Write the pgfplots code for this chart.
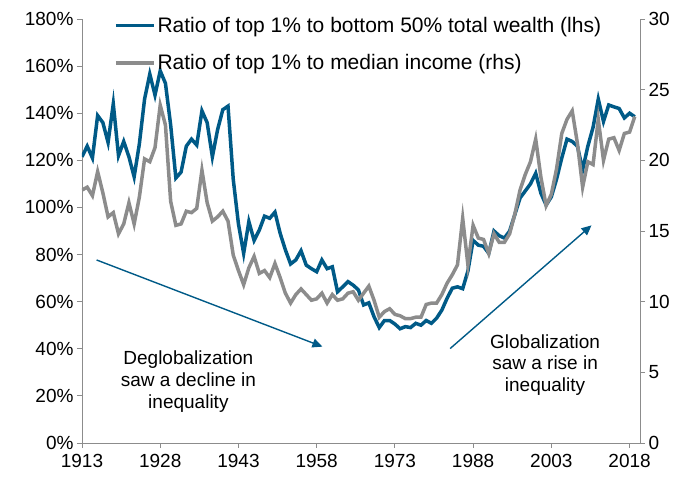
\documentclass[border=0pt]{standalone}
\usepackage{pgfplots}
\pgfplotsset{compat=1.18}
\usepackage{pgfplotstable}
\usepackage{fontspec}
\setmainfont{Liberation Sans}
\usetikzlibrary{arrows.meta}
\definecolor{wblue}{HTML}{005A87}
\definecolor{wgray}{HTML}{8C8C8C}
\definecolor{axgray}{HTML}{8C8C8C}

\pgfplotstableread{
year val
1913 121.5
1914 126
1915 121
1916 139
1917 136
1918 127.6
1919 144
1920 122
1921 128
1922 121.5
1923 113
1924 127
1925 146
1926 156.6
1927 147.7
1928 158
1929 152.7
1930 135
1931 112.5
1932 115
1933 126
1934 129
1935 126.5
1936 141
1937 136
1938 121.5
1939 133
1940 141.5
1941 143
1942 112
1943 93
1944 80.5
1945 94
1946 86
1947 90.4
1948 96.3
1949 95.4
1950 98
1951 89
1952 82
1953 76
1954 77.7
1955 81.6
1956 75.5
1957 74
1958 72.7
1959 77.7
1960 74
1961 74.8
1962 64.2
1963 66.3
1964 68.5
1965 67
1966 65
1967 58.6
1968 59.5
1969 53.6
1970 49
1971 52
1972 52
1973 50.5
1974 48.5
1975 49.4
1976 49
1977 50.8
1978 50
1979 52
1980 50.8
1981 53
1982 56.4
1983 61.4
1984 65.7
1985 66.3
1986 65.5
1987 73
1988 86
1989 84
1990 83.5
1991 80.5
1992 90
1993 88
1994 87
1995 90
1996 97
1997 104
1998 107
1999 110
2000 114.5
2001 106
2002 101
2003 104.5
2004 112
2005 121
2006 129
2007 128
2008 126
2009 116
2010 126
2011 134
2012 146
2013 136.5
2014 143.5
2015 142.7
2016 142
2017 138
2018 140
2019 138.5
}\wealth

\pgfplotstableread{
year val
1913 17.9
1914 18.1
1915 17.5
1916 19.2
1917 17.7
1918 16.0
1919 16.3
1920 14.8
1921 15.5
1922 17.0
1923 15.5
1924 17.4
1925 20.1
1926 19.9
1927 20.9
1928 23.9
1929 22.5
1930 17.1
1931 15.4
1932 15.5
1933 16.4
1934 16.3
1935 16.6
1936 19.3
1937 17.0
1938 15.7
1939 16.0
1940 16.4
1941 15.7
1942 13.3
1943 12.2
1944 11.2
1945 12.4
1946 13.2
1947 12.0
1948 12.2
1949 11.7
1950 12.7
1951 11.7
1952 10.6
1953 9.9
1954 10.5
1955 10.9
1956 10.5
1957 10.1
1958 10.2
1959 10.6
1960 9.9
1961 10.5
1962 10.1
1963 10.2
1964 10.6
1965 10.7
1966 10.1
1967 10.6
1968 11.1
1969 10.1
1970 8.9
1971 9.3
1972 9.5
1973 9.1
1974 9.0
1975 8.8
1976 8.8
1977 8.9
1978 8.9
1979 9.8
1980 9.9
1981 9.9
1982 10.5
1983 11.3
1984 11.9
1985 12.6
1986 15.9
1987 12.6
1988 15.4
1989 14.5
1990 14.4
1991 13.4
1992 14.8
1993 14.2
1994 14.2
1995 14.8
1996 16.2
1997 17.9
1998 19.0
1999 19.9
2000 21.5
2001 18.8
2002 16.8
2003 17.6
2004 19.4
2005 21.9
2006 22.9
2007 23.5
2008 21.2
2009 18.1
2010 19.9
2011 19.7
2012 22.9
2013 20.0
2014 21.5
2015 21.6
2016 20.7
2017 21.9
2018 22.0
2019 23.1
}\income

\begin{document}
\begin{tikzpicture}
\pgfplotsset{
  common/.style={
    scale only axis, width=558pt, height=424pt,
    xmin=1913, xmax=2020,
    axis line style={-, axgray, line width=0.9pt},
    tick style={axgray, line width=0.9pt},
    major tick length=5pt,
    tick align=outside,
    font=\fontsize{19}{22}\selectfont,
    tick label style={font=\fontsize{19}{22}\selectfont},
    /pgf/number format/assume math mode=true,
    /pgf/number format/1000 sep={},
  }
}
\begin{axis}[common, name=ax,
  axis x line*=bottom, axis y line*=left,
  ymin=0, ymax=180, ytick={0,20,...,180},
  yticklabel={\pgfmathprintnumber[assume math mode=true]{\tick}\%},
  xtick={1913,1928,1943,1958,1973,1988,2003,2018},
  x tick label style={yshift=-3pt},
  legend style={at={(axis description cs:0.057,1.01)}, anchor=north west,
    draw=none, fill=none, inner sep=0pt, row sep=17pt,
    font=\fontsize{21}{24}\selectfont, text depth=0pt},
  legend cell align=left,
  legend image code/.code={\draw[#1] (0pt,0pt) -- (38pt,0pt);},
]
\addplot[wblue, line width=3.5pt] table[x=year, y=val] {\wealth};
\addlegendentry{Ratio of top 1\% to bottom 50\% total wealth (lhs)}
\addlegendimage{wgray, line width=3.5pt}
\addlegendentry{Ratio of top 1\% to median income (rhs)}
\draw[wblue, line width=1.4pt, -{Triangle[length=10pt, width=9pt]}]
  (axis cs:1915.8,77.7) -- (axis cs:1959.1,40.9);
\draw[wblue, line width=1.4pt, -{Triangle[length=10pt, width=9pt]}]
  (axis cs:1983.6,40.1) -- (axis cs:2010.7,92.4);
\node[anchor=north, align=center, inner sep=0pt, font=\fontsize{19}{21.7}\selectfont]
  at (axis cs:1933.4,39.1) {Deglobalization\\saw a decline in\\inequality};
\node[anchor=north, align=center, inner sep=0pt, font=\fontsize{19}{21.7}\selectfont]
  at (axis cs:2001.8,46.2) {Globalization\\saw a rise in\\inequality};
\end{axis}
\begin{axis}[common,
  axis y line*=right, axis x line=none,
  ymin=0, ymax=30, ytick={0,5,...,30},
]
\addplot[wgray, line width=3.5pt] table[x=year, y=val] {\income};
\end{axis}
\path ([xshift=-82pt,yshift=-41pt]ax.south west) rectangle ([xshift=41pt,yshift=19pt]ax.north east);
\end{tikzpicture}
\end{document}
